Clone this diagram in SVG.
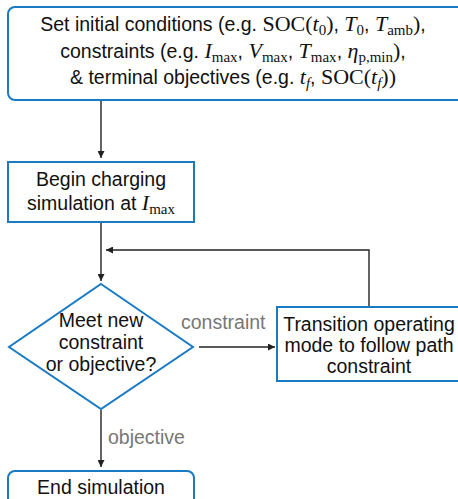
<svg xmlns="http://www.w3.org/2000/svg" width="458" height="499" viewBox="0 0 458 499">
<defs>
<style>
.box{fill:#fff;stroke:#1a7bc4;stroke-width:2}
.t{font-family:"Liberation Sans",Arial,sans-serif;font-size:19.5px;fill:#111;text-anchor:middle}
.m{font-family:"Liberation Serif","Times New Roman",serif;font-size:22px}
.i{font-style:italic}
.s{font-family:"Liberation Serif","Times New Roman",serif;font-size:15px}
.lbl{font-family:"Liberation Sans",Arial,sans-serif;font-size:19.5px;fill:#777}
.c{fill:none;stroke:#222;stroke-width:1.4}
</style>
<marker id="ah" viewBox="0 0 10 10" refX="10" refY="5" markerWidth="7" markerHeight="7" markerUnits="userSpaceOnUse" orient="auto">
<path d="M0,0 L10,5 L0,10 z" fill="#222"/>
</marker>
</defs>
<g id="connectors">
<path class="c" d="M101,100 V158" marker-end="url(#ah)"/>
<path class="c" d="M101,222 V281" marker-end="url(#ah)"/>
<path class="c" d="M369,306 V250 H106" marker-end="url(#ah)"/>
<path class="c" d="M199,347 H275" marker-end="url(#ah)"/>
<path class="c" d="M101,410 V467" marker-end="url(#ah)"/>
<text class="lbl" x="181" y="329">constraint</text>
<text class="lbl" x="108" y="444">objective</text>
</g>
<g id="start">
<rect class="box" x="8" y="7" width="456" height="93" rx="7"/>
<text class="t" y="31"><tspan x="233">Set initial conditions (e.g. <tspan class="m">SOC(</tspan><tspan class="m i">t</tspan><tspan class="s" dy="4">0</tspan><tspan class="m" dy="-4">)</tspan>, <tspan class="m i">T</tspan><tspan class="s" dy="4">0</tspan><tspan dy="-4">, </tspan><tspan class="m i">T</tspan><tspan class="s" dy="4">amb</tspan><tspan class="m" dy="-4">)</tspan>,</tspan></text>
<text class="t" y="58"><tspan x="233">constraints (e.g. <tspan class="m i">I</tspan><tspan class="s" dy="4">max</tspan><tspan dy="-4">, </tspan><tspan class="m i">V</tspan><tspan class="s" dy="4">max</tspan><tspan dy="-4">, </tspan><tspan class="m i">T</tspan><tspan class="s" dy="4">max</tspan><tspan dy="-4">, </tspan><tspan class="m i">η</tspan><tspan class="s" dy="4">p,min</tspan><tspan class="m" dy="-4">)</tspan>,</tspan></text>
<text class="t" y="84"><tspan x="233">&amp; terminal objectives (e.g. <tspan class="m i">t</tspan><tspan class="s i" dy="4">f</tspan><tspan dy="-4">, </tspan><tspan class="m">SOC(</tspan><tspan class="m i">t</tspan><tspan class="s i" dy="4">f</tspan><tspan class="m" dy="-4">))</tspan></tspan></text>
</g>
<g id="begin">
<rect class="box" x="8" y="162" width="186" height="60"/>
<text class="t" x="101" y="186">Begin charging</text>
<text class="t" x="101" y="210">simulation at <tspan class="m i">I</tspan><tspan class="s" dy="4">max</tspan></text>
</g>
<g id="decision">
<polygon class="box" points="101,284 193,347 101,409 9,347"/>
<text class="t" x="101" y="327">Meet new</text>
<text class="t" x="101" y="349">constraint</text>
<text class="t" x="101" y="371">or objective?</text>
</g>
<g id="transition">
<rect class="box" x="277" y="307" width="186" height="74"/>
<text class="t" x="369" y="331">Transition operating</text>
<text class="t" x="369" y="352">mode to follow path</text>
<text class="t" x="369" y="373">constraint</text>
</g>
<g id="end">
<rect class="box" x="8" y="471" width="186" height="50" rx="7"/>
<text class="t" x="101" y="494">End simulation</text>
</g>
</svg>
